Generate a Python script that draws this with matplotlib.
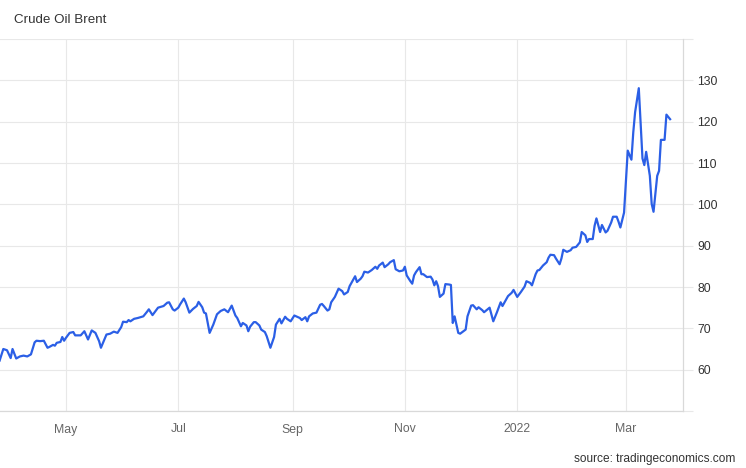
import matplotlib
matplotlib.use("Agg")
import matplotlib.pyplot as plt
import matplotlib.dates as mdates
from matplotlib.ticker import FixedLocator, FuncFormatter
import pandas as pd

plt.rcParams["font.family"] = ["Liberation Sans", "DejaVu Sans"]

title = "Crude Oil Brent"
source = "source: tradingeconomics.com"

# daily close, USD/bbl
dates = [
    "2021-03-26", "2021-03-28", "2021-03-30", "2021-04-01", "2021-04-02", "2021-04-04",
    "2021-04-06", "2021-04-08", "2021-04-10", "2021-04-12", "2021-04-14", "2021-04-15",
    "2021-04-17", "2021-04-19", "2021-04-21", "2021-04-22", "2021-04-24", "2021-04-25",
    "2021-04-26", "2021-04-28", "2021-04-29", "2021-04-30", "2021-05-01", "2021-05-03",
    "2021-05-05", "2021-05-06", "2021-05-09", "2021-05-11", "2021-05-13", "2021-05-15",
    "2021-05-17", "2021-05-19", "2021-05-20", "2021-05-23", "2021-05-25", "2021-05-27",
    "2021-05-29", "2021-05-31", "2021-06-01", "2021-06-03", "2021-06-04", "2021-06-05",
    "2021-06-07", "2021-06-09", "2021-06-12", "2021-06-14", "2021-06-15", "2021-06-17",
    "2021-06-18", "2021-06-20", "2021-06-23", "2021-06-25", "2021-06-26", "2021-06-28",
    "2021-06-29", "2021-07-01", "2021-07-02", "2021-07-04", "2021-07-05", "2021-07-07",
    "2021-07-09", "2021-07-11", "2021-07-12", "2021-07-14", "2021-07-15", "2021-07-16",
    "2021-07-18", "2021-07-20", "2021-07-22", "2021-07-24", "2021-07-26", "2021-07-28",
    "2021-07-30", "2021-08-01", "2021-08-02", "2021-08-04", "2021-08-05", "2021-08-07",
    "2021-08-08", "2021-08-09", "2021-08-11", "2021-08-12", "2021-08-14", "2021-08-15",
    "2021-08-17", "2021-08-18", "2021-08-20", "2021-08-22", "2021-08-23", "2021-08-25",
    "2021-08-26", "2021-08-28", "2021-08-29", "2021-08-31", "2021-09-02", "2021-09-05",
    "2021-09-06", "2021-09-08", "2021-09-09", "2021-09-10", "2021-09-12", "2021-09-14",
    "2021-09-16", "2021-09-17", "2021-09-18", "2021-09-20", "2021-09-21", "2021-09-22",
    "2021-09-24", "2021-09-26", "2021-09-28", "2021-09-29", "2021-10-01", "2021-10-02",
    "2021-10-04", "2021-10-05", "2021-10-06", "2021-10-08", "2021-10-09", "2021-10-10",
    "2021-10-12", "2021-10-14", "2021-10-16", "2021-10-17", "2021-10-18", "2021-10-20",
    "2021-10-21", "2021-10-23", "2021-10-24", "2021-10-26", "2021-10-27", "2021-10-29",
    "2021-10-31", "2021-11-01", "2021-11-02", "2021-11-04", "2021-11-05", "2021-11-06",
    "2021-11-07", "2021-11-09", "2021-11-10", "2021-11-11", "2021-11-13", "2021-11-15",
    "2021-11-16", "2021-11-17", "2021-11-18", "2021-11-19", "2021-11-20", "2021-11-22",
    "2021-11-23", "2021-11-25", "2021-11-26", "2021-11-27", "2021-11-28", "2021-11-30",
    "2021-12-01", "2021-12-04", "2021-12-05", "2021-12-07", "2021-12-08", "2021-12-10",
    "2021-12-11", "2021-12-13", "2021-12-14", "2021-12-17", "2021-12-19", "2021-12-21",
    "2021-12-23", "2021-12-24", "2021-12-27", "2021-12-29", "2021-12-30", "2022-01-01",
    "2022-01-03", "2022-01-05", "2022-01-06", "2022-01-08", "2022-01-09", "2022-01-11",
    "2022-01-12", "2022-01-13", "2022-01-15", "2022-01-17", "2022-01-18", "2022-01-19",
    "2022-01-21", "2022-01-22", "2022-01-24", "2022-01-25", "2022-01-26", "2022-01-28",
    "2022-01-30", "2022-01-31", "2022-02-02", "2022-02-04", "2022-02-05", "2022-02-07",
    "2022-02-08", "2022-02-09", "2022-02-11", "2022-02-12", "2022-02-13", "2022-02-15",
    "2022-02-16", "2022-02-18", "2022-02-19", "2022-02-21", "2022-02-22", "2022-02-24",
    "2022-02-25", "2022-02-26", "2022-02-28", "2022-03-01", "2022-03-02", "2022-03-04",
    "2022-03-05", "2022-03-06", "2022-03-08", "2022-03-10", "2022-03-11", "2022-03-12",
    "2022-03-14", "2022-03-15", "2022-03-16", "2022-03-18", "2022-03-19", "2022-03-20",
    "2022-03-22", "2022-03-23", "2022-03-25",
]
prices = [
    62.2, 65.0, 64.7, 62.8, 65.0, 62.7,
    63.2, 63.4, 63.2, 63.7, 66.6, 67.0,
    66.9, 67.0, 65.3, 65.5, 66.0, 65.8,
    66.5, 66.7, 67.9, 67.0, 67.7, 68.9,
    69.1, 68.3, 68.3, 69.3, 67.3, 69.5,
    68.9, 66.9, 65.3, 68.5, 68.7, 69.2,
    68.9, 70.3, 71.6, 71.5, 72.0, 71.7,
    72.3, 72.5, 72.9, 74.0, 74.6, 73.2,
    73.8, 75.0, 75.4, 76.2, 76.3, 74.6,
    74.3, 75.0, 75.8, 77.2, 76.3, 73.8,
    74.7, 75.4, 76.4, 75.1, 73.8, 73.6,
    68.9, 70.9, 73.4, 74.2, 74.6, 73.9,
    75.5, 73.1, 72.5, 70.5, 71.3, 70.7,
    69.3, 70.4, 71.5, 71.5, 70.7, 69.7,
    69.1, 68.1, 65.3, 67.9, 70.9, 72.3,
    71.2, 72.8, 72.3, 71.7, 73.1, 72.5,
    72.0, 72.7, 71.7, 72.9, 73.6, 73.8,
    75.7, 75.9, 75.4, 74.3, 74.6, 76.3,
    77.6, 79.6, 79.0, 78.2, 78.8, 80.2,
    81.8, 82.6, 81.2, 82.0, 82.6, 83.7,
    83.5, 84.1, 84.9, 84.4, 85.2, 85.9,
    84.8, 85.5, 86.0, 86.5, 84.3, 83.8,
    84.0, 84.9, 82.8, 81.4, 80.8, 82.8,
    83.6, 84.8, 83.1, 83.1, 82.4, 82.5,
    81.8, 80.4, 81.4, 80.2, 77.6, 78.4,
    80.7, 80.6, 80.5, 71.3, 72.9, 68.9,
    68.7, 69.7, 72.9, 75.5, 75.6, 74.6,
    75.1, 74.4, 73.9, 75.0, 71.7, 73.9,
    76.3, 75.4, 77.8, 78.6, 79.3, 77.6,
    78.8, 80.1, 81.4, 81.0, 80.4, 83.1,
    84.0, 84.1, 85.2, 86.0, 87.1, 87.8,
    87.7, 86.9, 85.5, 86.9, 89.0, 88.5,
    88.9, 89.5, 89.7, 90.8, 93.3, 92.5,
    90.9, 91.6, 91.6, 94.8, 96.6, 93.3,
    95.0, 93.2, 93.6, 95.6, 97.0, 97.0,
    95.8, 94.4, 98.0, 105.3, 113.0, 110.8,
    117.4, 122.3, 128.1, 111.1, 109.5, 112.7,
    106.9, 100.1, 98.2, 106.9, 108.1, 115.6,
    115.6, 121.7, 120.6,
]

month_ticks = ["2021-05-01", "2021-07-01", "2021-09-01", "2021-11-01", "2022-01-01", "2022-03-01"]
month_labels = ["May", "Jul", "Sep", "Nov", "2022", "Mar"]
y_ticks = [50, 60, 70, 80, 90, 100, 110, 120, 130, 140]
y_labeled = [60, 70, 80, 90, 100, 110, 120, 130]

df = pd.DataFrame({"date": pd.to_datetime(dates), "price": prices})

fig = plt.figure(figsize=(7.46, 4.68), dpi=100)
ax = fig.add_axes([0, 57 / 468, 683 / 746, 372 / 468])

grid_c = "#e8e8e8"
ax.plot(df["date"], df["price"], color="#2b5fe6", linewidth=1.6, solid_joinstyle="round")

ax.set_ylim(50, 140)
x0 = pd.Timestamp("2021-05-01") - pd.Timedelta(days=35.8)
x1 = pd.Timestamp("2021-05-01") + pd.Timedelta(days=335.0)
ax.set_xlim(x0, x1)

ax.yaxis.tick_right()
ax.yaxis.set_major_locator(FixedLocator(y_ticks))
ax.yaxis.set_major_formatter(FuncFormatter(lambda v, p: f"{int(v)}" if int(v) in y_labeled else ""))
ax.tick_params(axis="y", length=7.5, width=0.8, color=grid_c, pad=3,
               labelsize=8.8, labelcolor="#333333")

xt = [mdates.date2num(pd.Timestamp(d)) for d in month_ticks]
ax.set_xticks(xt)
ax.set_xticklabels(month_labels)
ax.tick_params(axis="x", length=0, pad=9, labelsize=8.8, labelcolor="#666666")

ax.grid(True, color=grid_c, linewidth=0.8)
ax.set_axisbelow(True)
for side in ["left", "top"]:
    ax.spines[side].set_visible(False)
for side in ["right", "bottom"]:
    ax.spines[side].set_color("#d9d9d9")
    ax.spines[side].set_linewidth(0.9)

fig.text(14 / 746, 1 - 20 / 468, title, fontsize=9.6, color="#333333", va="center", ha="left")
fig.text(735 / 746, 1 - 459 / 468, source, fontsize=8.6, color="#333333", va="center", ha="right")

fig.savefig("out.png", dpi=100, facecolor="white")
